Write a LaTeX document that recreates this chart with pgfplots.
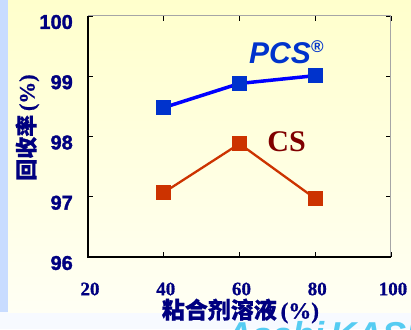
\documentclass[border=0pt]{standalone}
\usepackage{fontspec}
\setmainfont{Liberation Serif}
\newfontfamily\arialf{Liberation Sans}
\newfontfamily\arialb{Liberation Sans}[FakeBold=1.6]
\newfontfamily\serb{Liberation Serif}[FakeBold=0.8]
\newfontfamily\cjk{Noto Sans CJK SC}[FakeBold=0.6]
\usepackage{pgfplots}
\pgfplotsset{compat=1.18}
\definecolor{navy}{HTML}{000080}
\definecolor{pcsblue}{HTML}{0033CC}
\definecolor{linblue}{HTML}{0000FF}
\definecolor{csred}{HTML}{CC3300}
\definecolor{csdark}{HTML}{800000}
\definecolor{bgtop}{HTML}{FFFFCC}
\definecolor{bgbot}{HTML}{FFFFF4}
\definecolor{strip}{HTML}{C8DCFF}
\definecolor{logo}{HTML}{55CCF2}
\begin{document}
\begin{tikzpicture}
\useasboundingbox (0,0) rectangle (411pt,329pt);
\fill[color=white!85!strip] (0,0) rectangle (411pt,329pt);
\shade[top color=bgtop, bottom color=bgbot] (8pt,17pt) rectangle (411pt,329pt);
\fill[strip] (0,17pt) rectangle (8pt,329pt);
\node[anchor=north west, inner sep=0pt, text=logo, font=\arialf\bfseries\itshape\fontsize{36}{40}\selectfont] at (226pt,8pt) {Asahi\,KASEI};
\begin{axis}[
  at={(88pt,72pt)}, anchor=south west,
  scale only axis, width=303pt, height=241pt,
  xmin=20, xmax=100, ymin=96, ymax=100,
  xtick={20,40,60,80,100}, ytick={96,97,98,99,100},
  tick align=inside, major tick length=5pt,
  tick style={black, line width=0.8pt},
  axis line style={draw=none},
  /pgf/number format/assume math mode=true,
  xticklabel style={font=\serb\bfseries\fontsize{19}{21}\selectfont, text=navy, anchor=center, inner sep=0pt, yshift=-32pt, xshift=2pt},
  yticklabel style={font=\arialb\bfseries\fontsize{20}{22}\selectfont, text=navy, anchor=east, inner sep=0pt, xshift=-15pt, yshift=-6pt},
  xlabel={{\cjk\bfseries 粘合剂溶液}\,{\serb\bfseries (\%)}},
  xlabel style={font=\fontsize{23}{25}\selectfont, text=navy, at={(axis description cs:0.503,-0.224)}, anchor=center},
  ylabel={{\cjk\bfseries 回收率}\,{\serb\bfseries (\%)}},
  ylabel style={font=\fontsize{22}{24}\selectfont, text=navy, at={(axis description cs:-0.2,0.537)}, anchor=center},
  clip=false,
]
\draw[gray!70, line width=1pt] (rel axis cs:0,1) -- (rel axis cs:1,1) -- (rel axis cs:1,0);
\draw[black, line width=1.4pt] (rel axis cs:0,1) -- (rel axis cs:0,0) -- (rel axis cs:1,0);
\addplot[linblue, line width=3.5pt, mark=square*, mark size=7pt, mark options={pcsblue, line width=0pt, fill=pcsblue, draw=pcsblue}] coordinates {(40,98.48) (60,98.88) (80,99.01)};
\addplot[csred, line width=2.3pt, mark=square*, mark size=7pt, mark options={csred, line width=0pt, fill=csred, draw=csred}] coordinates {(40,97.07) (60,97.88) (80,96.97)};
\node[anchor=west, inner sep=0pt, text=pcsblue, font=\arialf\bfseries\itshape\fontsize{30}{32}\selectfont] at (axis cs:62.5,99.40) {PCS\raisebox{0.35em}{\fontsize{17}{18}\selectfont\textregistered}};
\node[anchor=west, inner sep=0pt, text=csdark, font=\bfseries\fontsize{30}{32}\selectfont] at (axis cs:67.3,97.91) {CS};
\end{axis}
\end{tikzpicture}
\end{document}
